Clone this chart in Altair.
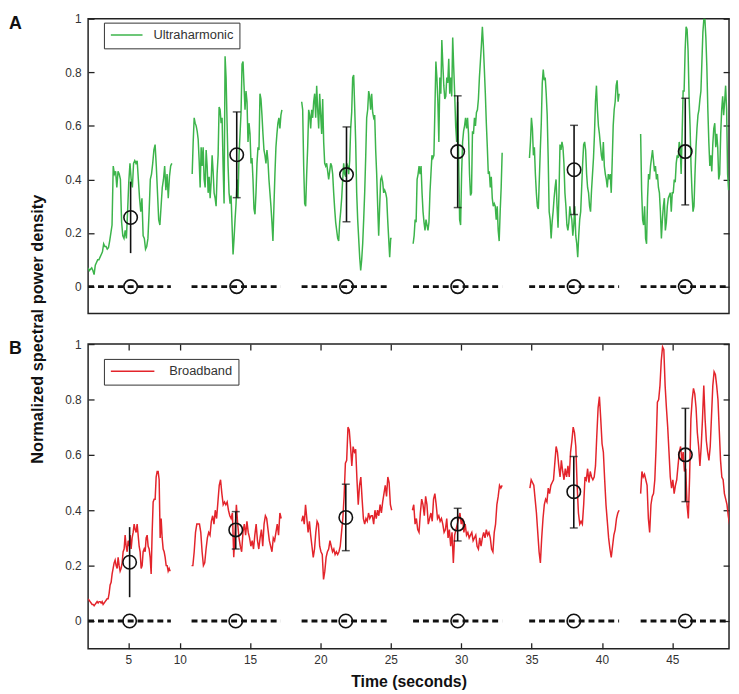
import altair as alt
import numpy as np
import pandas as pd

FONT = "Liberation Sans"
GREEN = "#3cb44b"
RED = "#e3242b"

# ---------------- data ----------------
x_domain = [3.49, 49.03]
y_domain = [-0.1, 1.0]
x_tick_values = [6.35, 10, 15, 20, 25, 30, 35, 40, 45]
x_tick_labels = ["5", "10", "15", "20", "25", "30", "35", "40", "45"]
y_tick_values = [0, 0.2, 0.4, 0.6, 0.8, 1]

# segment time spans (seconds)
ultra_start = [3.49, 10.885, 18.665, 26.585, 34.85, 42.75]
ultra_end = [9.44, 17.26, 25.06, 32.91, 41.22, 49.07]
broad_start = [3.49, 10.84, 18.665, 26.535, 34.88, 42.75]
broad_end = [9.32, 17.21, 25.06, 32.91, 41.22, 49.16]
zero_start = [3.49, 10.84, 18.66, 26.58, 34.83, 42.75]
zero_end = [9.37, 17.17, 24.97, 32.91, 41.22, 49.03]

ultra_1 = [0.07, 0.06, 0.065, 0.07, 0.06, 0.045, 0.08, 0.09, 0.10, 0.10, 0.11, 0.12, 0.13, 0.16, 0.15, 0.15, 0.14,
           0.145, 0.17, 0.20, 0.23,
           0.45, 0.42, 0.43, 0.37, 0.43, 0.42, 0.40, 0.24, 0.19, 0.18, 0.21, 0.18, 0.28, 0.39, 0.46, 0.40, 0.37,
           0.46, 0.47, 0.46, 0.47, 0.40, 0.33, 0.28, 0.33, 0.19, 0.18, 0.14, 0.15, 0.18, 0.28, 0.40, 0.42, 0.46,
           0.51, 0.53, 0.45, 0.35, 0.25, 0.23, 0.30, 0.37, 0.40, 0.45, 0.36, 0.42, 0.33, 0.41, 0.45, 0.46]
ultra_2 = [0.42, 0.54, 0.63, 0.61, 0.60, 0.58, 0.55, 0.47, 0.37, 0.52,
           0.45, 0.52, 0.40, 0.37, 0.51, 0.45, 0.35, 0.41, 0.33, 0.39,
           0.49, 0.43, 0.35, 0.33, 0.30, 0.42, 0.49, 0.67, 0.66, 0.61,
           0.63, 0.45, 0.31, 0.86, 0.78, 0.61, 0.45, 0.35, 0.31, 0.34,
           0.23, 0.12, 0.18, 0.25, 0.31, 0.40, 0.33, 0.49, 0.57, 0.65,
           0.83, 0.84, 0.75, 0.66, 0.73, 0.69, 0.54, 0.61, 0.57, 0.46,
           0.48, 0.40, 0.29, 0.27, 0.35, 0.46, 0.52, 0.51, 0.72, 0.70,
           0.64, 0.57, 0.51, 0.49, 0.46, 0.51, 0.47, 0.40, 0.35, 0.30,
           0.24, 0.17, 0.30, 0.42, 0.52, 0.57, 0.61, 0.63, 0.59, 0.64, 0.66]
ultra_3 = [0.69, 0.66, 0.45, 0.31, 0.30, 0.42, 0.52, 0.66, 0.64, 0.59,
           0.66, 0.63, 0.69, 0.72, 0.63, 0.75, 0.66, 0.59, 0.72, 0.64,
           0.57, 0.70, 0.54, 0.46, 0.45, 0.46, 0.43, 0.40, 0.43, 0.46,
           0.45, 0.42, 0.35, 0.29, 0.24, 0.21, 0.18, 0.17, 0.24, 0.28,
           0.33, 0.40, 0.46, 0.42, 0.41, 0.46, 0.45, 0.42, 0.47, 0.59,
           0.65, 0.78, 0.79, 0.67, 0.54, 0.35, 0.25, 0.18, 0.11, 0.06,
           0.10, 0.16, 0.25, 0.35, 0.48, 0.63, 0.66, 0.73, 0.71, 0.66,
           0.72, 0.65, 0.63, 0.64, 0.51, 0.42, 0.30, 0.19, 0.30, 0.40,
           0.41, 0.39, 0.35, 0.36, 0.35, 0.33, 0.25, 0.18, 0.11, 0.18, 0.18]
ultra_4 = [0.16, 0.19, 0.25, 0.24, 0.40, 0.42, 0.45, 0.42, 0.45, 0.35,
           0.28, 0.24, 0.21, 0.25, 0.23, 0.21, 0.24, 0.35, 0.42, 0.49,
           0.48, 0.49, 0.66, 0.84, 0.78, 0.69, 0.54, 0.78, 0.72, 0.92,
           0.83, 0.75, 0.70, 0.71, 0.78, 0.76, 0.85, 0.72, 0.78, 0.71,
           0.93, 0.82, 0.72, 0.60, 0.54, 0.69, 0.48, 0.25, 0.23, 0.42,
           0.54, 0.58, 0.60, 0.63, 0.59, 0.63, 0.57, 0.42, 0.34, 0.35,
           0.58, 0.57, 0.63, 0.60, 0.65, 0.66, 0.70, 0.78, 0.84, 0.90,
           0.97, 0.90, 0.81, 0.72, 0.61, 0.52, 0.42, 0.43, 0.37, 0.41,
           0.33, 0.30, 0.31, 0.30, 0.25, 0.30, 0.21, 0.17, 0.28, 0.37, 0.50]
ultra_5 = [0.48, 0.54, 0.63, 0.59, 0.49, 0.52, 0.42, 0.35, 0.30, 0.29,
           0.40, 0.51, 0.61, 0.76, 0.81, 0.77, 0.78, 0.72, 0.64, 0.48,
           0.28, 0.25, 0.18, 0.24, 0.28, 0.33, 0.37, 0.40, 0.30, 0.22,
           0.35, 0.53, 0.51, 0.54, 0.52, 0.46, 0.35, 0.30, 0.23, 0.21,
           0.24, 0.30, 0.27, 0.25, 0.19, 0.23, 0.30, 0.19, 0.16, 0.11,
           0.19, 0.25, 0.28, 0.37, 0.46, 0.53, 0.54, 0.51, 0.42, 0.37,
           0.35, 0.30, 0.28, 0.36, 0.42, 0.48, 0.57, 0.69, 0.75, 0.66,
           0.60, 0.57, 0.53, 0.49, 0.47, 0.54, 0.45, 0.42, 0.40, 0.37,
           0.42, 0.40, 0.42, 0.35, 0.47, 0.60, 0.66, 0.69, 0.75, 0.77, 0.69, 0.72]
ultra_6 = [0.57, 0.36, 0.25, 0.23, 0.30, 0.18, 0.16, 0.33, 0.42, 0.40,
           0.45, 0.48, 0.51, 0.47, 0.43, 0.45, 0.40, 0.42, 0.37, 0.35,
           0.28, 0.18, 0.25, 0.30, 0.33, 0.21, 0.24, 0.30, 0.33, 0.34,
           0.35, 0.28, 0.35, 0.35, 0.40, 0.39, 0.46, 0.49, 0.48, 0.54,
           0.52, 0.42, 0.57, 0.73, 0.73, 0.88, 0.97, 0.96, 0.88, 0.71,
           0.60, 0.45, 0.35, 0.28, 0.30, 0.42, 0.52, 0.59, 0.64, 0.66,
           0.70, 0.73, 0.84, 0.95, 1.0, 1.0, 0.93, 0.82, 0.66, 0.54,
           0.45, 0.49, 0.43, 0.53, 0.59, 0.61, 0.52, 0.57, 0.52, 0.40,
           0.42, 0.57, 0.66, 0.71, 0.64, 0.69, 0.75, 0.66, 0.42, 0.36, 0.40]

broad_1 = [0.08, 0.075, 0.07, 0.065, 0.06, 0.06, 0.055, 0.06, 0.065, 0.07, 0.065, 0.07, 0.07, 0.065, 0.07, 0.06,
           0.065, 0.07, 0.075, 0.08, 0.08,
           0.10, 0.13, 0.14, 0.17, 0.19, 0.21, 0.22, 0.20, 0.19, 0.23,
           0.20, 0.18, 0.19, 0.21, 0.25, 0.26, 0.31, 0.27, 0.25, 0.29,
           0.27, 0.31, 0.26, 0.30, 0.32, 0.35, 0.33, 0.32, 0.35, 0.31,
           0.27, 0.25, 0.19, 0.20, 0.25, 0.26, 0.25, 0.30, 0.31, 0.27,
           0.26, 0.23, 0.17, 0.32, 0.43, 0.44, 0.44, 0.52, 0.54, 0.54,
           0.51, 0.30, 0.37, 0.30, 0.26, 0.25, 0.23, 0.20, 0.20, 0.18, 0.19, 0.18]
broad_2 = [0.20, 0.20, 0.25, 0.32, 0.35, 0.35, 0.35, 0.32, 0.25, 0.20,
           0.21, 0.26, 0.30, 0.32, 0.31, 0.36, 0.38, 0.35, 0.40, 0.37,
           0.43, 0.49, 0.51, 0.46, 0.42, 0.43, 0.42, 0.43, 0.40, 0.38,
           0.37, 0.39, 0.23, 0.32, 0.42, 0.35, 0.30, 0.27, 0.25, 0.32,
           0.35, 0.31, 0.36, 0.32, 0.30, 0.27, 0.29, 0.26, 0.31, 0.35,
           0.29, 0.26, 0.30, 0.33, 0.27, 0.35, 0.38, 0.37, 0.33, 0.29,
           0.27, 0.25, 0.30, 0.29, 0.32, 0.35, 0.31, 0.39, 0.37]
broad_3 = [0.36, 0.38, 0.35, 0.42, 0.37, 0.32, 0.36, 0.31, 0.27, 0.23,
           0.26, 0.32, 0.36, 0.35, 0.27, 0.25, 0.24, 0.15, 0.18, 0.23,
           0.25, 0.26, 0.29, 0.27, 0.25, 0.26, 0.24, 0.25, 0.24, 0.25,
           0.27, 0.32, 0.37, 0.45,
           0.57, 0.58, 0.70, 0.69, 0.63, 0.56, 0.63, 0.61, 0.62, 0.51,
           0.42, 0.49, 0.52, 0.44, 0.37, 0.35, 0.37, 0.36, 0.39, 0.37, 0.38,
           0.38, 0.35, 0.40, 0.37, 0.40, 0.38, 0.42, 0.39, 0.43, 0.46,
           0.49, 0.45, 0.52, 0.50, 0.42, 0.40]
broad_4 = [0.40, 0.42, 0.35, 0.37, 0.33, 0.32, 0.39, 0.44, 0.42, 0.38,
           0.45, 0.42, 0.35, 0.37, 0.39, 0.36, 0.44, 0.46, 0.42, 0.37,
           0.38, 0.36, 0.37, 0.35, 0.32, 0.33, 0.37, 0.30, 0.33, 0.27,
           0.32, 0.21, 0.31, 0.33, 0.35, 0.37, 0.39, 0.35, 0.37, 0.32,
           0.35, 0.31, 0.32, 0.30, 0.31, 0.32, 0.29, 0.30, 0.31, 0.27,
           0.26, 0.30, 0.27, 0.30, 0.32, 0.30, 0.33, 0.31, 0.32, 0.30,
           0.26, 0.25, 0.32, 0.35, 0.42, 0.45, 0.49, 0.48, 0.49]
broad_5 = [0.48, 0.51, 0.50, 0.49, 0.44, 0.39, 0.32, 0.25, 0.21, 0.30,
           0.37, 0.42, 0.44, 0.43, 0.48, 0.46, 0.49, 0.50, 0.51, 0.57,
           0.63, 0.61, 0.56, 0.52, 0.58, 0.54, 0.51, 0.55, 0.52, 0.56,
           0.52, 0.61, 0.65, 0.70, 0.68, 0.63, 0.49, 0.39, 0.35, 0.36,
           0.35, 0.42, 0.52, 0.51, 0.55, 0.50, 0.54, 0.52, 0.51, 0.52,
           0.56, 0.67, 0.77, 0.81, 0.73, 0.64, 0.61, 0.51, 0.42, 0.36,
           0.30, 0.26, 0.23, 0.27, 0.31, 0.33, 0.37, 0.39, 0.40]
broad_6 = [0.46, 0.54, 0.52, 0.53, 0.51, 0.49, 0.37, 0.32, 0.42, 0.45,
           0.46, 0.51, 0.63, 0.79, 0.80, 0.85, 0.94, 0.99, 0.98, 0.85,
           0.77, 0.70, 0.61, 0.52, 0.48, 0.51, 0.46, 0.49, 0.51, 0.56,
           0.61, 0.63, 0.58, 0.61, 0.54, 0.55, 0.42, 0.37, 0.52, 0.73,
           0.80, 0.84, 0.82, 0.77, 0.68, 0.63, 0.56, 0.63, 0.73, 0.85,
           0.73, 0.65, 0.61, 0.58, 0.63, 0.74, 0.85, 0.90, 0.89, 0.85,
           0.80, 0.69, 0.58, 0.52, 0.51, 0.46, 0.44, 0.42, 0.38, 0.35, 0.33]

ultra_t = [6.51, 14.05, 21.85, 29.75, 38.02, 45.92]
ultra_mean = [0.258, 0.492, 0.418, 0.504, 0.436, 0.504]
ultra_lo = [0.125, 0.332, 0.242, 0.295, 0.269, 0.305]
ultra_hi = [0.392, 0.652, 0.596, 0.712, 0.602, 0.703]

broad_t = [6.44, 13.98, 21.80, 29.75, 38.00, 45.93]
broad_mean = [0.212, 0.329, 0.374, 0.350, 0.467, 0.600]
broad_lo = [0.086, 0.260, 0.254, 0.289, 0.336, 0.431]
broad_hi = [0.339, 0.395, 0.494, 0.407, 0.594, 0.768]

has_cap = [False, True, True, True, True, True]


# ---------------- tables ----------------
def line_table(name, starts, ends, segs):
    rows = []
    for i, (s, e, vals) in enumerate(zip(starts, ends, segs)):
        ts = np.linspace(s, e, len(vals))
        for t, v in zip(ts, vals):
            rows.append({"t": float(t), "v": v, "seg": i, "series": name})
    return pd.DataFrame(rows)


def stats_tables(ts, means, los, his):
    err = pd.DataFrame({"t": ts, "lo": los, "hi": his, "cap": has_cap})
    caps = pd.concat([
        err[err.cap][["t", "lo"]].rename(columns={"lo": "y"}),
        err[err.cap][["t", "hi"]].rename(columns={"hi": "y"}),
    ])
    pts = pd.concat([
        pd.DataFrame({"t": ts, "y": means}),
        pd.DataFrame({"t": ts, "y": [0.0] * len(ts)}),
    ])
    return err, caps, pts


zero_df = pd.DataFrame({"start": zero_start, "end": zero_end, "zero": [0.0] * len(zero_start)})

ultra_df = line_table("Ultraharmonic", ultra_start, ultra_end,
                      [ultra_1, ultra_2, ultra_3, ultra_4, ultra_5, ultra_6])
broad_df = line_table("Broadband", broad_start, broad_end,
                      [broad_1, broad_2, broad_3, broad_4, broad_5, broad_6])

# ---------------- scales & axes ----------------
x_scale = alt.Scale(domain=x_domain, nice=False, zero=False)
y_scale = alt.Scale(domain=y_domain, nice=False, zero=False)

label_expr = "datum.label"
for v, l in zip(x_tick_values, x_tick_labels):
    label_expr = f"abs(datum.value - {v}) < 0.01 ? '{l}' : ({label_expr})"

tick_style = dict(tickSize=6, tickColor="#222", tickWidth=1.3, domain=False, grid=False)

left_axis = alt.Axis(orient="left", values=y_tick_values, format="~g", offset=-6, labelPadding=7,
                     title=None, labelFont=FONT, labelFontSize=12, labelColor="#333", **tick_style)
right_axis = alt.Axis(orient="right", values=y_tick_values, offset=-6, labels=False, title=None, **tick_style)
bottom_axis = alt.Axis(orient="bottom", values=x_tick_values, labelExpr=label_expr, offset=-6, labelPadding=6,
                       labelFont=FONT, labelFontSize=12, labelColor="#333", labelFlush=False,
                       title="Time (seconds)", titleFont=FONT, titleFontSize=16, titleFontWeight="bold",
                       titleColor="#111", titlePadding=8, **tick_style)
top_axis = alt.Axis(orient="top", values=x_tick_values, offset=-6, labels=False, title=None, **tick_style)


def panel(df, name, color, ts, means, los, his, letter, letter_y, show_x, height,
          legend_y, sym_len, label_off, ylabel=None):
    err, caps, pts = stats_tables(ts, means, los, his)
    line = alt.Chart(df).mark_line(strokeWidth=1.5, clip=True).encode(
        x=alt.X("t:Q", scale=x_scale, axis=bottom_axis if show_x else None),
        y=alt.Y("v:Q", scale=y_scale, axis=left_axis),
        color=alt.Color("series:N", scale=alt.Scale(domain=[name], range=[color]),
                        legend=alt.Legend(title=None, orient="none", legendX=16, legendY=legend_y,
                                          symbolType="stroke", symbolSize=sym_len ** 2,
                                          symbolStrokeWidth=1.6, labelOffset=label_off,
                                          clipHeight=13,
                                          labelFont=FONT, labelFontSize=13, labelColor="#333",
                                          padding=6, strokeColor="#333", fillColor="white")),
        detail="seg:N",
    )
    zero = alt.Chart(zero_df).mark_rule(strokeDash=[6, 4], strokeWidth=3, color="#111", clip=True).encode(
        x=alt.X("start:Q", scale=x_scale, axis=top_axis if show_x else None),
        x2="end:Q",
        y=alt.Y("zero:Q", scale=y_scale, axis=right_axis),
    )
    bars = alt.Chart(err).mark_rule(strokeWidth=1.6, color="#111").encode(
        x=alt.X("t:Q", scale=x_scale, axis=None),
        y=alt.Y("lo:Q", scale=y_scale, axis=None),
        y2="hi:Q",
    )
    cap = alt.Chart(caps).mark_tick(orient="horizontal", size=8, thickness=1.5, color="#111").encode(
        x=alt.X("t:Q", scale=x_scale, axis=None),
        y=alt.Y("y:Q", scale=y_scale, axis=None),
    )
    circ = alt.Chart(pts).mark_point(shape="circle", filled=False, size=185, strokeWidth=1.6,
                                     color="#111", opacity=1).encode(
        x=alt.X("t:Q", scale=x_scale, axis=None),
        y=alt.Y("y:Q", scale=y_scale, axis=None),
    )
    let = alt.Chart(pd.DataFrame({"txt": [letter]})).mark_text(
        font=FONT, fontSize=18, fontWeight="bold", align="left", baseline="top", color="#111"
    ).encode(x=alt.value(-80), y=alt.value(letter_y), text="txt:N")
    layers = [line, zero, bars, cap, circ, let]
    if ylabel:
        ttl = alt.Chart(pd.DataFrame({"txt": [ylabel]})).mark_text(
            font=FONT, fontSize=16.5, fontWeight="bold", angle=270, align="center", baseline="middle",
            color="#111"
        ).encode(x=alt.value(-51), y=alt.value(314), text="txt:N")
        layers.append(ttl)
    return alt.layer(*layers).resolve_axis(x="independent", y="independent").properties(
        width=648, height=height)


pA = panel(ultra_df, "Ultraharmonic", GREEN, ultra_t, ultra_mean, ultra_lo, ultra_hi,
           "A", -4, False, 298, 4, 32, 10, ylabel="Normalized spectral power density")
pB = panel(broad_df, "Broadband", RED, broad_t, broad_mean, broad_lo, broad_hi,
           "B", -4, True, 308, 15, 44, 14)

chart = alt.vconcat(pA, pB, spacing=31, bounds="flush").resolve_scale(
    color="independent").resolve_legend(color="independent").properties(
    padding={"left": 0, "top": 0, "right": 0, "bottom": 0}
).configure_view(stroke="#222", strokeWidth=1.5)

chart.save("out.html", embed_options={"renderer": "svg", "actions": False})
